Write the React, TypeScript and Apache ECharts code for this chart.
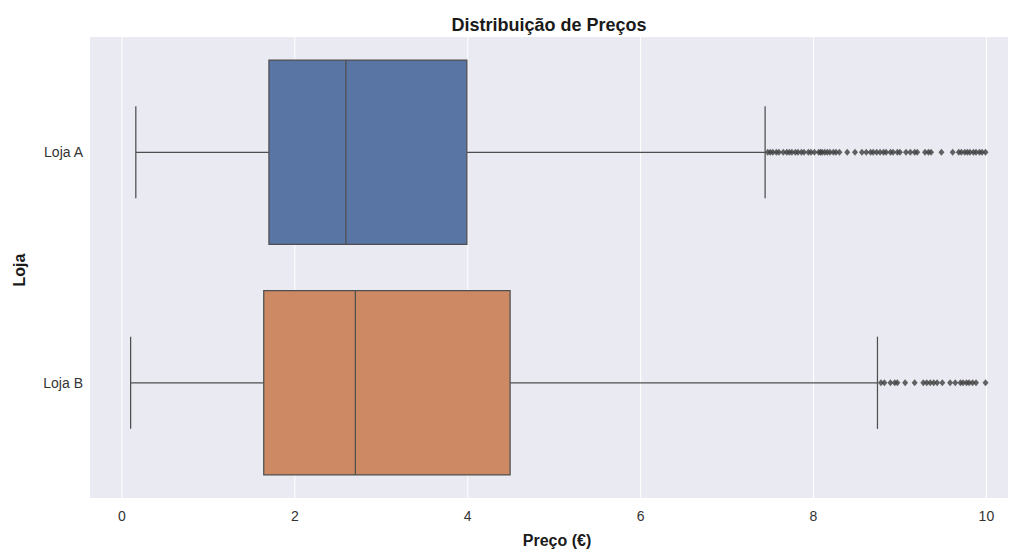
import React, { useEffect, useRef } from "react";
import * as echarts from "echarts";

const categories = ["Loja A", "Loja B"];
// [low whisker, Q1, median, Q3, high whisker]
const boxStats = [
  [0.16, 1.7, 2.59, 3.99, 7.44],
  [0.1, 1.64, 2.7, 4.49, 8.74],
];
const boxColors = ["#5875A4", "#CC8963"];
const outliersA = [
  7.47, 7.5, 7.53, 7.57, 7.6, 7.65, 7.69, 7.72, 7.75, 7.79, 7.82, 7.86, 7.89, 7.94, 7.97, 8.01,
  8.06, 8.08, 8.1, 8.13, 8.16, 8.19, 8.23, 8.26, 8.3, 8.39, 8.48, 8.56, 8.61, 8.66, 8.69, 8.73,
  8.77, 8.81, 8.84, 8.89, 8.92, 8.97, 9.0, 9.07, 9.12, 9.17, 9.2, 9.29, 9.33, 9.36, 9.48, 9.61,
  9.68, 9.71, 9.75, 9.78, 9.81, 9.85, 9.88, 9.92, 9.95, 9.99,
];
const outliersB = [
  8.78, 8.82, 8.89, 8.94, 8.97, 9.06, 9.17, 9.27, 9.31, 9.35, 9.39, 9.43, 9.49, 9.58, 9.64, 9.7,
  9.73, 9.77, 9.8, 9.84, 9.88, 9.99,
];
const xTicks = [0, 2, 4, 6, 8, 10];

const LINE = "#4f4f4f";
const FONT = "Liberation Sans, Arial, sans-serif";

export default function App() {
  const ref = useRef<HTMLDivElement>(null);
  useEffect(() => {
    document.body.style.margin = "0";
    const chart = echarts.init(ref.current!, null, { renderer: "svg" });
    const boxData = boxStats.map((s, i) => [i, ...s]);
    const outlierData = [
      ...outliersA.map((v) => [v, 0]),
      ...outliersB.map((v) => [v, 1]),
    ];
    chart.setOption({
      animation: false,
      backgroundColor: "#ffffff",
      textStyle: { fontFamily: FONT },
      grid: {
        left: 90,
        right: 6,
        top: 37,
        bottom: 52,
        show: true,
        backgroundColor: "#EAEAF2",
        borderWidth: 0,
      },
      xAxis: {
        type: "value",
        min: -0.37,
        max: 10.25,
        axisLine: { show: false },
        axisTick: { show: false },
        splitLine: { show: false },
        axisLabel: {
          customValues: xTicks,
          color: "#333333",
          fontSize: 14,
          margin: 11,
        },
      },
      yAxis: {
        type: "category",
        data: categories,
        inverse: true,
        axisLine: { show: false },
        axisTick: { show: false },
        splitLine: { show: false },
        axisLabel: { color: "#333333", fontSize: 14, margin: 7 },
      },
      graphic: [
        {
          type: "text",
          x: 549,
          y: 25,
          style: {
            text: "Distribuição de Preços",
            font: "bold 18px " + FONT,
            fill: "#1a1a1a",
            align: "center",
            verticalAlign: "middle",
          },
        },
        {
          type: "text",
          x: 557,
          y: 540,
          style: {
            text: "Preço (€)",
            font: "bold 16px " + FONT,
            fill: "#1a1a1a",
            align: "center",
            verticalAlign: "middle",
          },
        },
        {
          type: "text",
          x: 19,
          y: 270,
          rotation: Math.PI / 2,
          style: {
            text: "Loja",
            font: "bold 16px " + FONT,
            fill: "#1a1a1a",
            align: "center",
            verticalAlign: "middle",
          },
        },
      ],
      series: [
        {
          type: "custom",
          z: 1,
          silent: true,
          data: xTicks.map((t) => [t]),
          encode: { x: 0 },
          renderItem: (params: any, api: any) => {
            const cs = params.coordSys;
            const x = api.coord([api.value(0), 0])[0];
            return {
              type: "line",
              shape: { x1: x, y1: cs.y, x2: x, y2: cs.y + cs.height },
              style: { stroke: "#ffffff", lineWidth: 1 },
            };
          },
        },
        {
          type: "custom",
          z: 3,
          data: boxData,
          encode: { x: [1, 2, 3, 4, 5], y: 0 },
          renderItem: (params: any, api: any) => {
            const cat = api.value(0);
            const low = api.coord([api.value(1), cat]);
            const q1 = api.coord([api.value(2), cat]);
            const med = api.coord([api.value(3), cat]);
            const q3 = api.coord([api.value(4), cat]);
            const high = api.coord([api.value(5), cat]);
            const band = api.size([0, 1])[1];
            const half = band * 0.4;
            const cap = band * 0.2;
            const y = q1[1];
            const ls = { stroke: LINE, lineWidth: 1.25 };
            return {
              type: "group",
              children: [
                { type: "line", shape: { x1: low[0], y1: y, x2: q1[0], y2: y }, style: ls },
                { type: "line", shape: { x1: q3[0], y1: y, x2: high[0], y2: y }, style: ls },
                { type: "line", shape: { x1: low[0], y1: y - cap, x2: low[0], y2: y + cap }, style: ls },
                { type: "line", shape: { x1: high[0], y1: y - cap, x2: high[0], y2: y + cap }, style: ls },
                {
                  type: "rect",
                  shape: { x: q1[0], y: y - half, width: q3[0] - q1[0], height: half * 2 },
                  style: { fill: boxColors[params.dataIndex], stroke: LINE, lineWidth: 1.25 },
                },
                { type: "line", shape: { x1: med[0], y1: y - half, x2: med[0], y2: y + half }, style: ls },
              ],
            };
          },
        },
        {
          type: "scatter",
          z: 4,
          data: outlierData,
          symbol: "diamond",
          symbolSize: [6, 7],
          itemStyle: { color: "#3f3f3f" },
        },
      ],
    });
    return () => chart.dispose();
  }, []);
  return <div ref={ref} style={{ width: 1014, height: 550 }} />;
}
